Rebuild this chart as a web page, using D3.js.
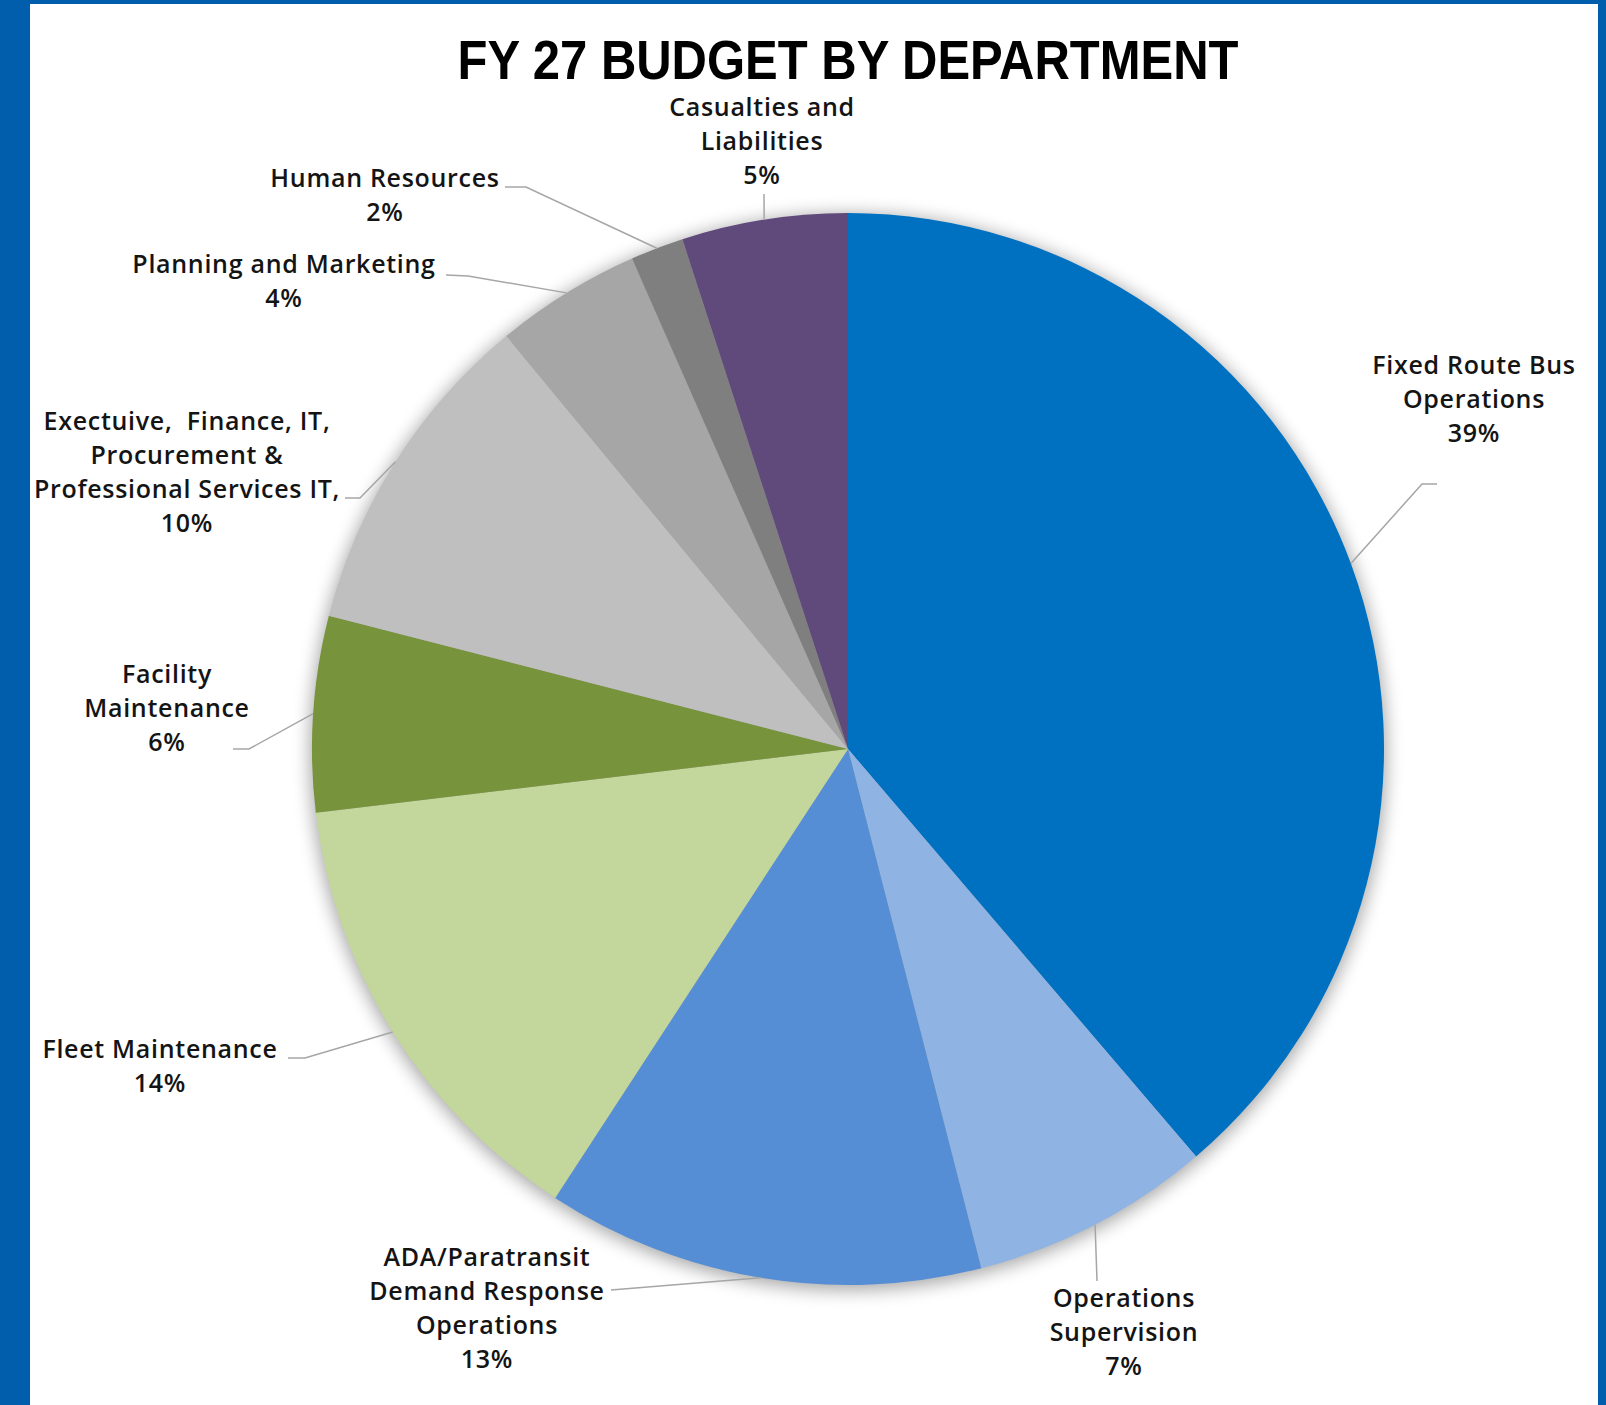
<!DOCTYPE html>
<html>
<head>
<meta charset="utf-8">
<script src="https://cdn.jsdelivr.net/npm/d3@7"></script>
<style>
  html, body { margin: 0; padding: 0; background: #fff; }
  svg { display: block; }
</style>
</head>
<body>
<svg id="chart"></svg>
<script>
// slice values (percent of budget)
const departments = [
  'Fixed Route Bus Operations',
  'Operations Supervision',
  'ADA/Paratransit Demand Response Operations',
  'Fleet Maintenance',
  'Facility Maintenance',
  'Exectuive,  Finance, IT, Procurement & Professional Services IT,',
  'Planning and Marketing',
  'Human Resources',
  'Casualties and Liabilities'
]
const shares = [38.75, 7.25, 13.2, 13.9, 5.9, 10.0, 4.4, 1.6, 5.0]
const shareLabels = ['39%', '7%', '13%', '14%', '6%', '10%', '4%', '2%', '5%']
const colors = ['#0070C0', '#8FB4E3', '#558ED5', '#C3D69B', '#77933C', '#BFBFBF', '#A6A6A6', '#7F7F7F', '#604A7B']

// how each data label is broken into lines
const labelLines = [
  ['Fixed Route Bus', 'Operations'],
  ['Operations', 'Supervision'],
  ['ADA/Paratransit', 'Demand Response', 'Operations'],
  ['Fleet Maintenance'],
  ['Facility', 'Maintenance'],
  ['Exectuive,  Finance, IT,', 'Procurement &', 'Professional Services IT,'],
  ['Planning and Marketing'],
  ['Human Resources'],
  ['Casualties and', 'Liabilities']
]

const width = 1606
const height = 1405
const cx = 848
const cy = 749
const radius = 536
const lineHeight = 34

// label placement: text centre x, first baseline y, leader points on the label side
const labelLayout = [
  { x: 1474, y: 374, leader: [[1437, 484], [1422, 484]] },
  { x: 1124, y: 1307, leader: [[1097, 1281]] },
  { x: 487, y: 1266, leader: [[611, 1290]] },
  { x: 160, y: 1058, leader: [[288, 1058], [305, 1058]] },
  { x: 167, y: 683, leader: [[233, 749], [249, 749]] },
  { x: 187, y: 430, leader: [[345, 498], [360, 498]] },
  { x: 284, y: 273, leader: [[446, 275], [468, 276]] },
  { x: 385, y: 187, leader: [[505, 187], [526, 187]] },
  { x: 762, y: 116, leader: [[764, 194]] }
]

const svg = d3.select('#chart')
  .attr('width', width)
  .attr('height', height)

// blue frame
svg.append('rect').attr('x', 0).attr('y', 0).attr('width', width).attr('height', height).attr('fill', '#005EAC')
svg.append('rect').attr('x', 30).attr('y', 4).attr('width', 1568).attr('height', height - 4).attr('fill', '#ffffff')

// soft shadow behind the pie
const defs = svg.append('defs')
defs.append('filter')
  .attr('id', 'shadow')
  .attr('x', '-20%').attr('y', '-20%').attr('width', '140%').attr('height', '140%')
  .append('feGaussianBlur')
  .attr('stdDeviation', 9)

svg.append('circle')
  .attr('cx', cx)
  .attr('cy', cy + 3)
  .attr('r', radius + 2)
  .attr('fill', '#000')
  .attr('opacity', 0.35)
  .attr('filter', 'url(#shadow)')

// title
svg.append('text')
  .attr('x', cx)
  .attr('y', 79)
  .attr('text-anchor', 'middle')
  .attr('font-family', 'Liberation Sans, Arial, sans-serif')
  .attr('font-weight', 'bold')
  .attr('font-size', 55)
  .attr('textLength', 781)
  .attr('lengthAdjust', 'spacingAndGlyphs')
  .attr('fill', '#000')
  .text('FY 27 BUDGET BY DEPARTMENT')

const pie = d3.pie().sort(null).value((d) => d)
const arcs = pie(shares)
const arc = d3.arc().innerRadius(0).outerRadius(radius)

const g = svg.append('g').attr('transform', `translate(${cx},${cy})`)

g.selectAll('.slice')
  .data(arcs)
  .enter()
  .append('path')
  .attr('class', 'slice')
  .attr('d', arc)
  .attr('fill', (d, i) => colors[i])

// leader lines: from label side to the slice edge at its mid angle
const edgePoint = (d) => {
  const a = (d.startAngle + d.endAngle) / 2
  return [cx + radius * Math.sin(a), cy - radius * Math.cos(a)]
}

svg.selectAll('.leader')
  .data(arcs)
  .enter()
  .append('polyline')
  .attr('class', 'leader')
  .attr('points', (d, i) => labelLayout[i].leader.concat([edgePoint(d)]).map((p) => p.join(',')).join(' '))
  .attr('fill', 'none')
  .attr('stroke', '#A6A6A6')
  .attr('stroke-width', 1.5)

// data labels
const labels = svg.selectAll('.label')
  .data(arcs)
  .enter()
  .append('text')
  .attr('class', 'label')
  .attr('text-anchor', 'middle')
  .attr('font-family', 'Open Sans, sans-serif')
  .attr('font-weight', 600)
  .attr('font-size', 25)
  .attr('letter-spacing', 0.7)
  .attr('fill', '#141414')
  .style('white-space', 'pre')

labels.each(function (d, i) {
  const lines = labelLines[i].concat([shareLabels[i]])
  const t = d3.select(this)
  lines.forEach((line, k) => {
    t.append('tspan')
      .attr('x', labelLayout[i].x)
      .attr('y', labelLayout[i].y + k * lineHeight)
      .text(line)
  })
})
</script>
</body>
</html>
